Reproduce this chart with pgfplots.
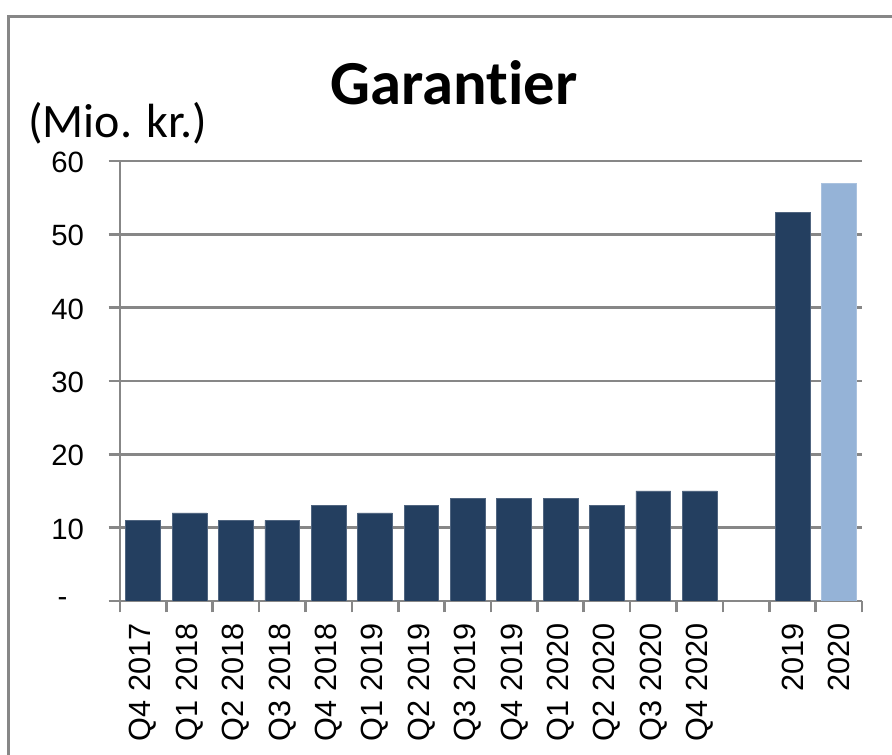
\documentclass[border=0pt]{standalone}
\usepackage{fontspec}
\setmainfont{Liberation Sans}
\newfontfamily\carlito[Ligatures={NoCommon}]{Carlito}
\usepackage{pgfplots}
\pgfplotsset{compat=1.18}
\definecolor{navy}{HTML}{243F60}
\definecolor{lblue}{HTML}{95B3D7}
\definecolor{gridgray}{HTML}{878787}
\begin{document}
\begin{tikzpicture}
\useasboundingbox (0,0) rectangle (669pt,566.25pt);
\draw[gridgray, line width=2.25pt] (6.375pt,-20pt) -- (6.375pt,553.875pt) -- (700pt,553.875pt);
\node[anchor=base, font=\carlito\bfseries\fontsize{47}{50}\selectfont, inner sep=0pt] at (340.5pt,487.5pt) {Garantier};
\node[anchor=base west, font=\carlito\fontsize{36}{40}\selectfont, inner sep=0pt] at (21pt,463pt) {(Mio. kr.)};
\begin{axis}[
  at={(90pt,115.5pt)}, anchor=south west, scale only axis,
  width=556.5pt, height=330pt,
  xmin=-0.5, xmax=15.5, ymin=0, ymax=60,
  axis x line*=bottom, axis y line*=left,
  axis line style={gridgray, line width=2pt},
  ytick={0,10,...,60},
  yticklabels={{-\kern12.5pt},10,20,30,40,50,60},
  yticklabel style={font=\fontsize{22}{24}\selectfont, anchor=east, xshift=-15pt, yshift=-1pt},
  ymajorgrids, grid style={gridgray, line width=2pt},
  xtick={-0.5,0.5,...,15.5}, xticklabels={},
  extra x ticks={0,1,2,3,4,5,6,7,8,9,10,11,12,13,14,15},
  extra x tick labels={Q4 2017,Q1 2018,Q2 2018,Q3 2018,Q4 2018,Q1 2019,Q2 2019,Q3 2019,Q4 2019,Q1 2020,Q2 2020,Q3 2020,Q4 2020,{},2019,2020},
  extra x tick style={major tick length=0pt, xticklabel style={rotate=90, anchor=east, xshift=-13.5pt, font=\fontsize{23}{26}\selectfont}},
  tick align=outside, major tick length=8.5pt,
  tick style={gridgray, line width=2pt},
  ybar, bar width=0.75,
]
\addplot[ybar, bar shift=0pt, fill=navy, draw=navy!80!white, line width=0.5pt] coordinates {
 (0,11) (1,12) (2,11) (3,11) (4,13) (5,12) (6,13) (7,14) (8,14) (9,14) (10,13) (11,15) (12,15) (14,53)};
\addplot[ybar, bar shift=0pt, fill=lblue, draw=lblue!80!white, line width=0.5pt] coordinates {(15,57)};
\end{axis}
\end{tikzpicture}
\end{document}
